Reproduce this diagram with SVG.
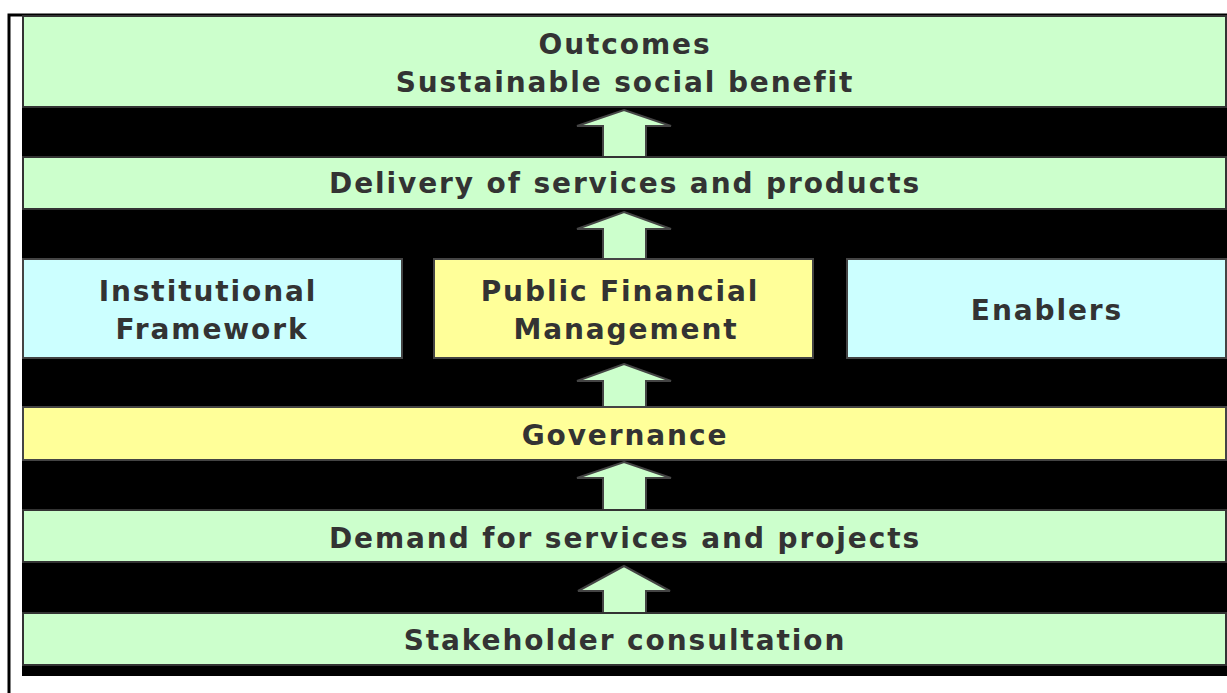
<svg xmlns="http://www.w3.org/2000/svg" width="1227" height="693" viewBox="0 0 1227 693">
<style>
.g{fill:#ccffcc;stroke:#333;stroke-width:2}
.y{fill:#ffff99;stroke:#444;stroke-width:2}
.c{fill:#ccffff;stroke:#444;stroke-width:2}
.a{fill:#ccffcc;stroke:#444;stroke-width:2;stroke-linejoin:miter}
text{font-family:"DejaVu Sans",Verdana,sans-serif;font-weight:bold;font-size:28px;letter-spacing:1.9px;fill:#333;text-anchor:middle}
</style>
<rect x="0" y="0" width="1227" height="693" fill="#fff"/>
<path d="M9 693V15H1227" fill="none" stroke="#000" stroke-width="3"/>
<rect x="22" y="15" width="1205" height="661" fill="#000"/>
<g id="connectors">
<polygon class="a" points="624,110 671,126 646,126 646,157 603,157 603,126 577,126"/>
<polygon class="a" points="624,212 671,229 646,229 646,259 603,259 603,229 577,229"/>
<polygon class="a" points="624,364 671,381 646,381 646,407 603,407 603,381 577,381"/>
<polygon class="a" points="624,462 671,478 646,478 646,510 603,510 603,478 577,478"/>
<polygon class="a" points="624,566 670,591 646,591 646,613 603,613 603,591 578,591"/>
</g>
<g id="outcomes"><rect class="g" x="23" y="16" width="1203" height="91"/><text x="625" y="54">Outcomes</text><text x="625" y="92">Sustainable social benefit</text></g>
<g id="delivery"><rect class="g" x="23" y="157" width="1203" height="52"/><text x="625" y="193">Delivery of services and products</text></g>
<g id="institutional"><rect class="c" x="23" y="259" width="379" height="99"/><text x="208" y="301">Institutional</text><text x="212" y="339">Framework</text></g>
<g id="pfm"><rect class="y" x="434" y="259" width="379" height="99"/><text x="620" y="301">Public Financial</text><text x="626" y="339">Management</text></g>
<g id="enablers"><rect class="c" x="847" y="259" width="379" height="99"/><text x="1047" y="320">Enablers</text></g>
<g id="governance"><rect class="y" x="23" y="407" width="1203" height="53"/><text x="625" y="445">Governance</text></g>
<g id="demand"><rect class="g" x="23" y="510" width="1203" height="52"/><text x="625" y="548">Demand for services and projects</text></g>
<g id="stakeholder"><rect class="g" x="23" y="613" width="1203" height="52"/><text x="625" y="650">Stakeholder consultation</text></g>
</svg>
